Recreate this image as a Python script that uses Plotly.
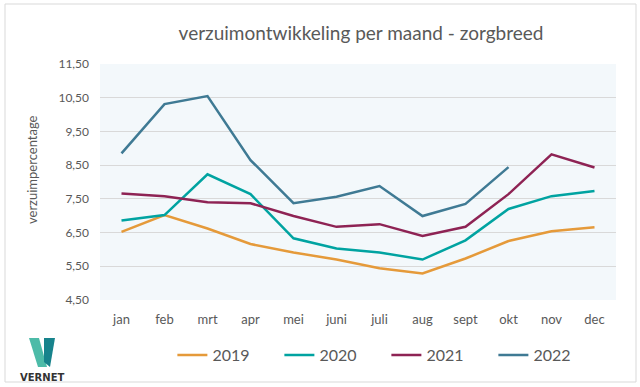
import plotly.graph_objects as go

months = ["jan", "feb", "mrt", "apr", "mei", "juni", "juli", "aug", "sept", "okt", "nov", "dec"]
v2019 = [6.52, 7.02, 6.62, 6.16, 5.91, 5.70, 5.44, 5.29, 5.73, 6.25, 6.54, 6.66]
v2020 = [6.86, 7.02, 8.23, 7.64, 6.33, 6.03, 5.91, 5.70, 6.27, 7.20, 7.58, 7.73]
v2021 = [7.66, 7.58, 7.40, 7.37, 6.99, 6.67, 6.75, 6.40, 6.67, 7.64, 8.82, 8.43]
v2022 = [8.85, 10.31, 10.55, 8.65, 7.37, 7.56, 7.88, 6.99, 7.35, 8.44]
years = ["2019", "2020", "2021", "2022"]
series = [v2019, v2020, v2021, v2022]
colors = ["#E59A3A", "#00A3A1", "#8E2354", "#3F7A94"]
yticks = [4.5, 5.5, 6.5, 7.5, 8.5, 9.5, 10.5, 11.5]

fig = go.Figure()
for name, vals, col in zip(years, series, colors):
    fig.add_trace(go.Scatter(x=months[:len(vals)], y=vals, name=name, mode="lines",
                             line=dict(color=col, width=2.5)))

font = "Lato, Carlito, 'Open Sans', sans-serif"
fig.update_layout(
    width=640, height=387,
    margin=dict(l=100, r=24, t=64, b=87, autoexpand=False),
    paper_bgcolor="white", plot_bgcolor="#F3F8FB",
    separators=", ",
    font=dict(family=font, color="#595959"),
    title=dict(text="verzuimontwikkeling per maand - zorgbreed", x=361/640, xanchor="center",
               y=1 - 33/387, yanchor="middle", font=dict(size=19, color="#595959", family=font)),
    xaxis=dict(showgrid=False, showline=False, ticks="", tickfont=dict(size=13, color="#595959"),
               range=[-0.5, 11.5], automargin=False, ticklabelstandoff=10),
    yaxis=dict(range=[4.5, 11.5], tickvals=yticks, tickformat=".2f", showgrid=True,
               gridcolor="#D9D9D9", gridwidth=1, zeroline=False, showline=False,
               ticks="", ticklen=0, tickfont=dict(size=12, color="#595959"), automargin=False,
               ticklabelstandoff=10),
    legend=dict(orientation="h", x=0.555, xanchor="center", y=-55/236, yanchor="middle",
                font=dict(size=16, color="#595959"), itemwidth=30, entrywidth=62,
                tracegroupgap=0),
    showlegend=True,
)
def px(x):
    return (x - 100) / 516
def py(y):
    return (300 - y) / 236
# y-axis title
fig.add_annotation(text="verzuimpercentage", xref="paper", yref="paper", x=px(32), y=py(170),
                   textangle=-90, showarrow=False, xanchor="center", yanchor="middle",
                   font=dict(size=13, color="#595959", family=font))
# chart frame
fig.add_shape(type="rect", xref="paper", yref="paper", x0=px(5), x1=px(636),
              y0=py(382), y1=py(4), line=dict(color="#D9D9D9", width=1),
              fillcolor="rgba(0,0,0,0)", layer="below")
# logo (VERNET)
fig.add_shape(type="path", xref="paper", yref="paper",
              path=f"M {px(29)},{py(338)} L {px(39)},{py(338)} L {px(47)},{py(367)} L {px(38)},{py(367)} Z",
              fillcolor="#4DBBA8", line=dict(width=0))
fig.add_shape(type="path", xref="paper", yref="paper",
              path=f"M {px(44)},{py(338)} L {px(55)},{py(338)} L {px(50)},{py(367)} L {px(44)},{py(362)} Z",
              fillcolor="#17838C", line=dict(width=0))
fig.add_annotation(text="<b>VERNET</b>", xref="paper", yref="paper", x=px(42), y=py(377),
                   showarrow=False, font=dict(size=10, color="#333333", family="'DejaVu Sans', sans-serif"),
                   xanchor="center", yanchor="middle")
fig.write_html("out.html", config={"displayModeBar": False},
               post_script="document.body.style.margin='0';document.body.style.overflow='hidden';")
